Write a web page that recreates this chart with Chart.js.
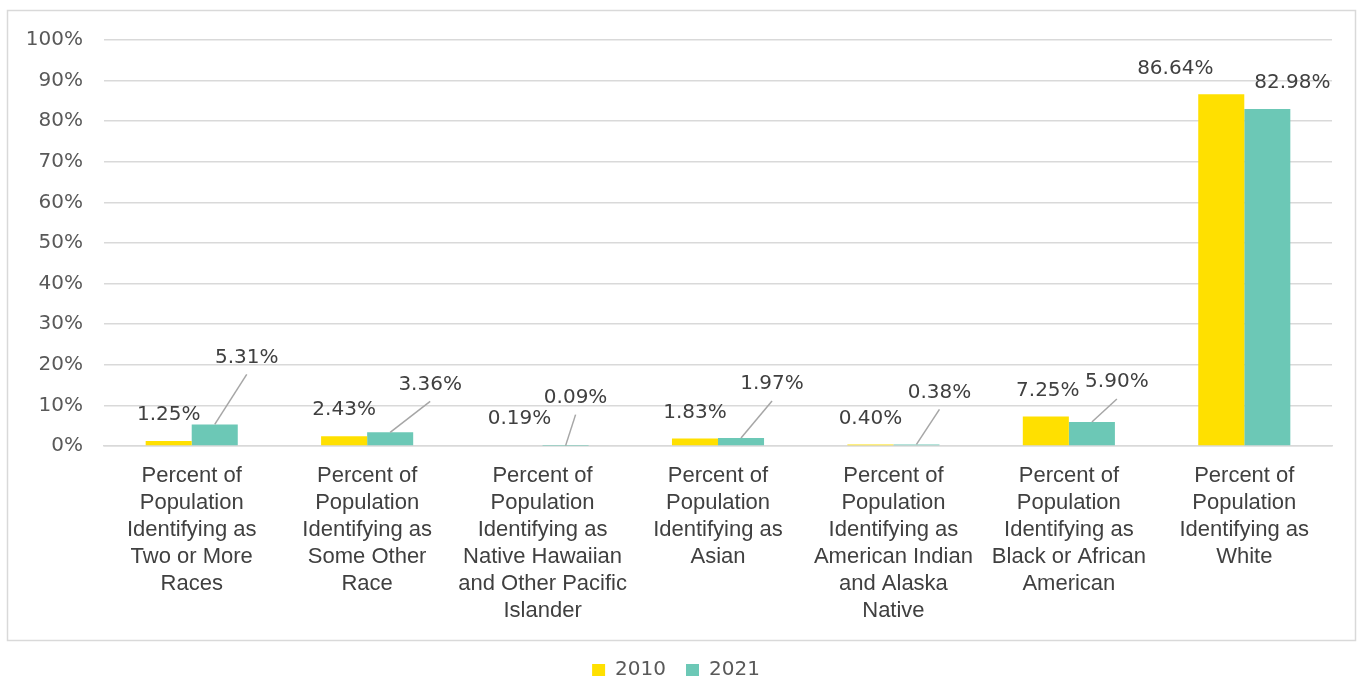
<!DOCTYPE html>
<html>
<head>
<meta charset="utf-8">
<script src="https://cdn.jsdelivr.net/npm/chart.js@4.4.1/dist/chart.umd.min.js"></script>
<style>
  html, body { margin: 0; padding: 0; background: #fff; }
  #wrap { width: 1362px; height: 677px; }
</style>
</head>
<body>
<div id="wrap"><canvas id="chart"></canvas></div>
<script>
// data
const categories = [
  ["Percent of", "Population", "Identifying as", "Two or More", "Races"],
  ["Percent of", "Population", "Identifying as", "Some Other", "Race"],
  ["Percent of", "Population", "Identifying as", "Native Hawaiian", "and Other Pacific", "Islander"],
  ["Percent of", "Population", "Identifying as", "Asian"],
  ["Percent of", "Population", "Identifying as", "American Indian", "and Alaska", "Native"],
  ["Percent of", "Population", "Identifying as", "Black or African", "American"],
  ["Percent of", "Population", "Identifying as", "White"]
];
const seriesNames = ["2010", "2021"];
const values2010 = [1.25, 2.43, 0.19, 1.83, 0.40, 7.25, 86.64];
const values2021 = [5.31, 3.36, 0.09, 1.97, 0.38, 5.90, 82.98];

// label placement (pixels, relative to bar top) - styling only
const labelShift = [
  [[0, -26], [0, -26], [0, -26], [0, -26], [0, -26], [2, -26], [-46, -25]],
  [[32, -67], [40, -48], [10, -48], [31, -54], [23, -52], [25, -40], [25, -26]]
];

const TEXT_FONT = "'Liberation Sans', Arial, sans-serif";
const NUM_FONT = "'DejaVu Sans', sans-serif";

// draws value labels and leader lines
const barLabels = {
  id: 'barLabels',
  afterDatasetsDraw(chart) {
    const ctx = chart.ctx;
    ctx.save();
    ctx.font = '20px ' + NUM_FONT;
    ctx.textAlign = 'center';
    ctx.textBaseline = 'middle';
    chart.data.datasets.forEach((ds, di) => {
      const meta = chart.getDatasetMeta(di);
      meta.data.forEach((bar, i) => {
        const [dx, dy] = labelShift[di][i];
        const lx = bar.x + dx, ly = bar.y + dy;
        if (Math.abs(dy) > 35) {
          ctx.strokeStyle = '#A6A6A6';
          ctx.lineWidth = 1.5;
          ctx.beginPath();
          ctx.moveTo(bar.x, bar.y);
          ctx.lineTo(lx, ly + 17);
          ctx.stroke();
        }
        ctx.fillStyle = '#404040';
        ctx.fillText(ds.data[i].toFixed(2) + '%', lx, ly);
      });
    });
    ctx.restore();
  }
};

// outer frame around the plot (legend sits outside it)
const frame = {
  id: 'frame',
  beforeDraw(chart) {
    const ctx = chart.ctx;
    ctx.save();
    ctx.fillStyle = '#fff';
    ctx.fillRect(0, 0, chart.width, chart.height);
    ctx.strokeStyle = '#D9D9D9';
    ctx.lineWidth = 1.5;
    ctx.strokeRect(7.5, 10.5, 1348, 630);
    ctx.restore();
  }
};

new Chart(document.getElementById('chart'), {
  type: 'bar',
  data: {
    labels: categories,
    datasets: [
      { label: seriesNames[0], data: values2010, backgroundColor: '#FFE000' },
      { label: seriesNames[1], data: values2021, backgroundColor: '#6CC8B6' }
    ]
  },
  options: {
    responsive: true,
    maintainAspectRatio: false,
    animation: false,
    categoryPercentage: 0.525,
    barPercentage: 1,
    layout: { padding: { left: 20, right: 30, top: 40, bottom: -13 } },
    plugins: {
      tooltip: { enabled: false },
      legend: {
        position: 'bottom',
        labels: {
          font: { family: NUM_FONT, size: 20 },
          color: '#595959',
          boxWidth: 13,
          boxHeight: 12,
          padding: 20
        }
      }
    },
    scales: {
      x: {
        grid: { display: false, drawTicks: false },
        border: { display: true, color: '#D9D9D9', width: 1.5 },
        ticks: {
          font: { family: TEXT_FONT, size: 22, lineHeight: 1.227 },
          color: '#404040',
          padding: 16,
          maxRotation: 0,
          autoSkip: false
        },
        afterFit(scale) { scale.height = 194; }
      },
      y: {
        min: 0,
        max: 100,
        grid: { color: '#D9D9D9', lineWidth: 1.5, drawTicks: false },
        border: { display: false },
        ticks: {
          stepSize: 10,
          font: { family: NUM_FONT, size: 20 },
          color: '#595959',
          padding: 21,
          callback: v => v + '%'
        },
        afterFit(scale) { scale.width = 84; }
      }
    }
  },
  plugins: [frame, barLabels]
});
</script>
</body>
</html>
